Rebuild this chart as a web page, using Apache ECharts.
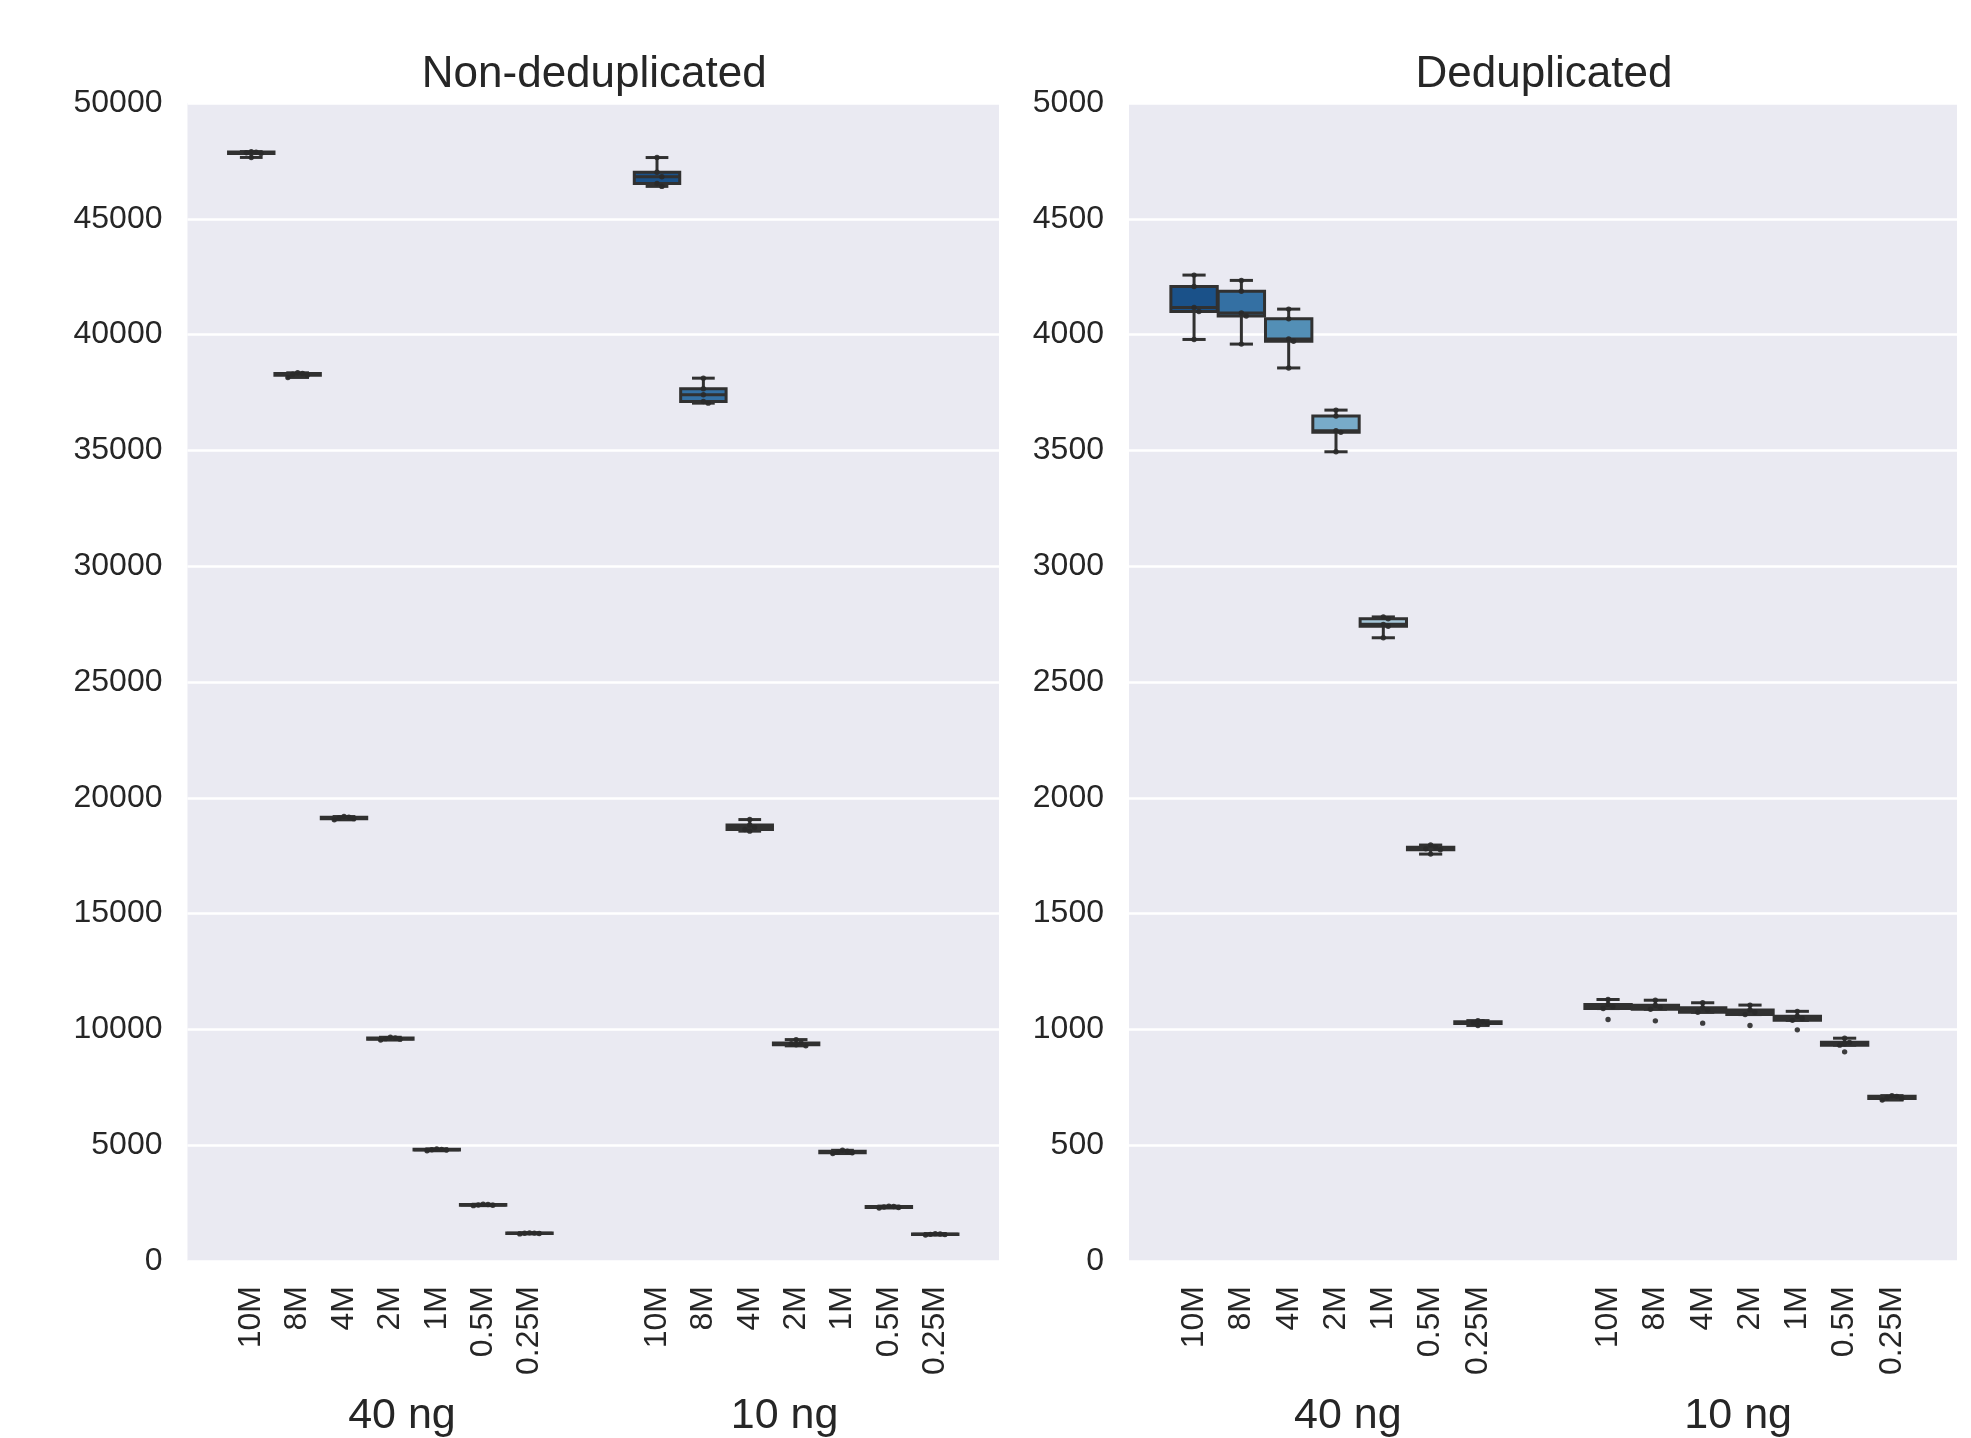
<!DOCTYPE html>
<html><head><meta charset="utf-8">
<script src="https://cdn.jsdelivr.net/npm/echarts@6/dist/echarts.min.js"></script>
<style>html,body{margin:0;padding:0;background:#fff}#c{width:1971px;height:1438px}</style>
</head><body><div id="c"></div>
<script>
// ---------------- data ----------------
const depths = ['10M', '8M', '4M', '2M', '1M', '0.5M', '0.25M'];
const inputs = ['40 ng', '10 ng'];
const panelTitles = ['Non-deduplicated', 'Deduplicated'];
const leftTicks = [0, 5000, 10000, 15000, 20000, 25000, 30000, 35000, 40000, 45000, 50000];
const rightTicks = [0, 500, 1000, 1500, 2000, 2500, 3000, 3500, 4000, 4500, 5000];
const palette = ['#1a5189', '#3470a3', '#538fb6', '#78abc9', '#a6c7d9', '#cbdbea', '#e1ebf4'];

// each row: [lower whisker, Q1, median, Q3, upper whisker]
const nonDedup40ng = [
  [47650, 47820, 47850, 47880, 47900],
  [38150, 38250, 38290, 38320, 38350],
  [19050, 19100, 19130, 19160, 19190],
  [9540, 9580, 9600, 9630, 9660],
  [4760, 4790, 4805, 4820, 4840],
  [2390, 2410, 2420, 2440, 2450],
  [1170, 1185, 1195, 1205, 1215]
];
const nonDedup10ng = [
  [46400, 46525, 46817, 47010, 47645],
  [37040, 37110, 37401, 37660, 38119],
  [18560, 18630, 18720, 18830, 19060],
  [9290, 9335, 9380, 9415, 9560],
  [4640, 4670, 4700, 4740, 4780],
  [2290, 2310, 2330, 2350, 2370],
  [1120, 1140, 1150, 1165, 1180]
];
const dedup40ng = [
  [3979, 4100, 4117, 4208, 4257],
  [3959, 4080, 4093, 4187, 4234],
  [3856, 3971, 3981, 4068, 4110],
  [3494, 3578, 3585, 3648, 3674],
  [2691, 2741, 2749, 2773, 2781],
  [1757, 1776, 1780, 1786, 1796],
  [1017, 1026, 1029, 1033, 1038]
];
const dedup10ng = [
  [1090, 1090, 1098, 1108, 1129],
  [1087, 1087, 1095, 1104, 1126],
  [1074, 1074, 1084, 1094, 1115],
  [1064, 1064, 1074, 1084, 1105],
  [1039, 1039, 1047, 1057, 1078],
  [932, 932, 938, 944, 962],
  [695, 702, 706, 711, 714]
];
const dedup10ngOutliers = [[1043], [1037], [1027], [1017], [998], [903], []];

// -------------- layout helpers --------------
const SLOTS = 70;                 // fine category slots per panel
const slotOf = (g, h) => 5 + h * 4 + g * 35;
const slotLabels = new Array(SLOTS).fill('');
inputs.forEach((_, g) => depths.forEach((d, h) => { slotLabels[slotOf(g, h)] = d; }));
const slotNames = slotLabels.map((_, i) => 's' + i);
// group caption slots
const groupSlots = [18, 51];
const groupLabels = new Array(SLOTS).fill('');
inputs.forEach((t, g) => { groupLabels[groupSlots[g]] = t; });

const EDGE = '#313131';
const TXT = '#262626';
const FONT = "'Liberation Sans', Arial, sans-serif";

const panels = [
  { sets: [nonDedup40ng, nonDedup10ng], outliers: [null, null], ticks: leftTicks },
  { sets: [dedup40ng, dedup10ng], outliers: [null, dedup10ngOutliers], ticks: rightTicks }
];

function swarm(ys, d) {
  const order = ys.map((y, i) => i).sort((a, b) => ys[a] - ys[b]);
  const placed = [];
  const offs = new Array(ys.length).fill(0);
  order.forEach(i => {
    for (let k = 0; k < 30; k++) {
      const cand = k === 0 ? 0 : (k % 2 ? 1 : -1) * Math.ceil(k / 2) * d * 0.9;
      if (placed.every(p => Math.hypot(p.x - cand, p.y - ys[i]) >= d * 0.9)) {
        offs[i] = cand; placed.push({ x: cand, y: ys[i] }); break;
      }
    }
  });
  return offs;
}

function makeRender(panel) {
  return function (params, api) {
    const slot = api.value(0);
    const v = [1, 2, 3, 4, 5].map(d => api.value(d));
    const hue = api.value(6), grp = api.value(7);
    const x = api.coord([slot, v[2]])[0];
    const y = v.map(val => api.coord([slot, val])[1]);
    const bw = api.size([1, 0])[0] * 4 * 0.98;
    const cap = bw / 2;
    const lw = 3;
    const ls = { stroke: EDGE, lineWidth: lw };
    const children = [
      { type: 'line', shape: { x1: x, y1: y[3], x2: x, y2: y[4] }, style: ls },
      { type: 'line', shape: { x1: x, y1: y[1], x2: x, y2: y[0] }, style: ls },
      { type: 'line', shape: { x1: x - cap / 2, y1: y[4], x2: x + cap / 2, y2: y[4] }, style: ls },
      { type: 'line', shape: { x1: x - cap / 2, y1: y[0], x2: x + cap / 2, y2: y[0] }, style: ls },
      { type: 'rect', shape: { x: x - bw / 2, y: y[3], width: bw, height: Math.max(y[1] - y[3], 0.5) },
        style: { fill: palette[hue], stroke: EDGE, lineWidth: lw } },
      { type: 'line', shape: { x1: x - bw / 2, y1: y[2], x2: x + bw / 2, y2: y[2] }, style: ls }
    ];
    // individual points (swarm overlay)
    const out = panel.outliers[grp] ? panel.outliers[grp][hue] : [];
    const vals = Array.from(new Set(v.concat(out)));
    const py = vals.map(val => api.coord([slot, val])[1]);
    const r = 2.7;
    const offs = swarm(py, r * 2);
    py.forEach((yy, i) => {
      children.push({ type: 'circle', shape: { cx: x + offs[i], cy: yy, r: r },
        style: { fill: '#2a2a2a', opacity: 0.9 } });
    });
    return { type: 'group', children };
  };
}

const grids = [
  { left: 187.5, top: 103, width: 811.5, height: 1162 },
  { left: 1129, top: 103, width: 828, height: 1162 }
];

const option = {
  animation: false,
  backgroundColor: '#ffffff',
  title: panelTitles.map((t, i) => ({
    text: t,
    left: grids[i].left + grids[i].width / 2 - 4,
    top: 48,
    textAlign: 'center',
    textStyle: { fontFamily: FONT, fontSize: 44, fontWeight: 'normal', color: TXT }
  })),
  grid: grids.map(g => Object.assign({ show: true, backgroundColor: '#eaeaf2', borderWidth: 0 }, g)),
  xAxis: [0, 1].flatMap(i => [
    {
      type: 'category', gridIndex: i, data: slotNames, boundaryGap: true,
      axisLine: { show: false }, axisTick: { show: false }, splitLine: { show: false },
      axisLabel: {
        interval: 0, rotate: 90, margin: 25, fontSize: 32, fontFamily: FONT, color: TXT,
        formatter: (val, idx) => slotLabels[idx]
      }
    },
    {
      type: 'category', gridIndex: i, data: slotNames, position: 'bottom', offset: 134,
      axisLine: { show: false }, axisTick: { show: false }, splitLine: { show: false },
      axisLabel: { interval: 0, margin: 0, fontSize: 43, fontFamily: FONT, color: TXT,
        formatter: (val, idx) => groupLabels[idx] }
    }
  ]),
  yAxis: panels.map((p, i) => ({
    type: 'value', gridIndex: i,
    min: p.ticks[0], max: p.ticks[p.ticks.length - 1], interval: p.ticks[1] - p.ticks[0],
    axisLine: { show: false }, axisTick: { show: false },
    splitLine: { show: true, lineStyle: { color: '#ffffff', width: 2.5 } },
    axisLabel: { margin: 25, fontSize: 32, fontFamily: FONT, color: TXT,
      formatter: val => String(val) }
  })),
  series: panels.map((p, i) => ({
    type: 'custom',
    xAxisIndex: i * 2, yAxisIndex: i,
    dimensions: ['slot', 'lo', 'q1', 'med', 'q3', 'hi', 'hue', 'grp'],
    encode: { x: 0, y: [1, 2, 3, 4, 5] },
    renderItem: makeRender(p),
    data: p.sets.flatMap((set, g) => set.map((s, h) => [slotOf(g, h)].concat(s, [h, g])))
  }))
};

const chart = echarts.init(document.getElementById('c'), null, { renderer: 'canvas' });
chart.setOption(option);
</script></body></html>
